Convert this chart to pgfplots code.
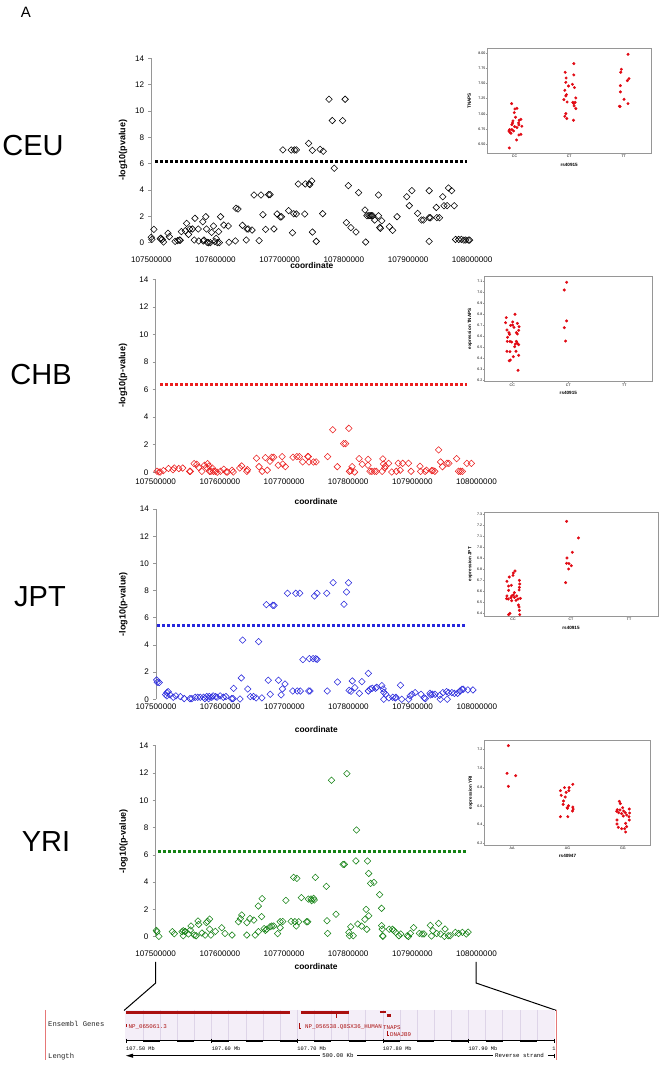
\documentclass[border=0pt]{standalone}
\usepackage{fontspec}
\setmainfont{Liberation Sans}
\newfontfamily\mono{Liberation Mono}
\usepackage{pgfplots}
\pgfplotsset{compat=1.18}

\definecolor{chbred}{RGB}{235,30,30}
\definecolor{jptblue}{RGB}{40,40,220}
\definecolor{yrigreen}{RGB}{20,130,20}
\definecolor{insetred}{RGB}{225,10,20}
\definecolor{genered}{RGB}{170,15,15}
\definecolor{band}{RGB}{244,238,248}
\definecolor{bandgrid}{RGB}{222,212,232}
\definecolor{axgray}{RGB}{150,150,150}
\definecolor{pagered}{RGB}{230,120,120}

\pgfplotsset{
  mainax/.style={
    scale only axis, clip=false,
    xmin=107500, xmax=108000, ymin=0, ymax=14,
    scaled x ticks=false, scaled y ticks=false,
    axis lines*=left, axis line style={-, draw=axgray, line width=0.6pt},
    x axis line style={draw=none},
    xtick={107500,107600,107700,107800,107900,108000},
    xticklabels={107500000,107600000,107700000,107800000,107900000,108000000},
    ytick={0,2,4,6,8,10,12,14},
    xtick style={draw=none},
    ytick style={draw=axgray, line width=0.6pt},
    tick align=outside, major tick length=3pt,
    /pgf/number format/assume math mode=true,
    tick label style={font=\fontsize{8.1}{9}\selectfont, inner sep=0pt},
    xticklabel style={anchor=center},
    yticklabel style={anchor=east, xshift=-4pt},
    every axis x label/.style={at={(axis description cs:0.5,0)}, anchor=center, font=\bfseries\fontsize{8.4}{9}\selectfont},
    every axis y label/.style={at={(axis description cs:-0.1,0.5)}, rotate=90, anchor=center, font=\bfseries\fontsize{9}{10}\selectfont},
    xlabel={coordinate},
  },
  dia/.style={only marks, mark=square, mark size=2.3pt, mark options={rotate=45, line width=0.55pt}},
  thr/.style={line width=3pt, dash pattern=on 3pt off 2pt},
  inax/.style={
    scale only axis, clip=false,
    scaled x ticks=false, scaled y ticks=false,
    xmin=-0.5, xmax=2.5, xtick={0,1,2},
    axis line style={draw=axgray, line width=0.5pt},
    tick style={draw=axgray, line width=0.4pt},
    tick align=outside, major tick length=1.2pt,
    tick pos=left,
    /pgf/number format/assume math mode=true,
    tick label style={font=\fontsize{3.6}{4}\selectfont, inner sep=0.6pt},
    every axis x label/.style={at={(axis description cs:0.5,0)}, anchor=center, yshift=-11.3pt, font=\bfseries\fontsize{4.6}{5}\selectfont},
    every axis y label/.style={at={(axis description cs:-0.085,0.5)}, rotate=90, anchor=center, font=\bfseries\fontsize{4.6}{5}\selectfont},
  },
  rdot/.style={only marks, mark=*, mark size=1.3pt, color=insetred, mark options={draw=insetred, fill=insetred}},
}

\begin{document}
\begin{tikzpicture}
\useasboundingbox (0,0) rectangle (661pt,1068pt);

% panel letters and population names
\node[font=\fontsize{15}{16}\selectfont] at (26pt,1055.3pt) {A};
\node[font=\fontsize{29}{30}\selectfont] at (33pt,922pt) {CEU};
\node[font=\fontsize{29}{30}\selectfont] at (41pt,693pt) {CHB};
\node[font=\fontsize{29}{30}\selectfont] at (40pt,471pt) {JPT};
\node[font=\fontsize{29}{30}\selectfont] at (46pt,226pt) {YRI};

%================ CEU =================
\begin{axis}[mainax, at={(151.3pt,825.3pt)}, anchor=south west, width=320.9pt, height=184.4pt,
  xticklabel style={yshift=-14.3pt}, xlabel style={yshift=-23.3pt},
  every axis y label/.append style={at={(axis description cs:-0.088,0.5)}},
  ylabel={-log10(pvalue)}]
\addplot[dia, black] coordinates {
(107500,0.41) (107501,0.25) (107504,1.01) (107514,0.30) (107515,0.35) (107517,0.25) (107519,0.05) (107526,0.71) (107528,0.46) (107537,0.10) (107541,0.15) (107544,0.20) (107545,0.18) (107547,0.84) (107553,0.91) (107555,1.47) (107558,0.63) (107560,1.04) (107564,1.04) (107567,0.20) (107568,1.85) (107573,1.04) (107574,0.13) (107580,1.59) (107581,0.13) (107582,0.20) (107585,1.97) (107586,1.04) (107587,0.03) (107589,0.0) (107592,0.0) (107594,0.78) (107597,1.27) (107599,0.08) (107601,0.33) (107603,0.0) (107605,0.84) (107606,0.0) (107608,1.97) (107613,1.34) (107620,1.27) (107621,0.03) (107631,0.13) (107632,2.61) (107635,2.56) (107642,1.32) (107648,0.20) (107649,1.04) (107651,1.04) (107657,0.96) (107660,3.62) (107668,0.15) (107671,3.62) (107674,2.13) (107678,1.01) (107683,3.65) (107685,3.65) (107691,1.04) (107696,2.18) (107701,1.95) (107703,1.97) (107705,7.04) (107714,2.43) (107718,7.04) (107720,0.76) (107722,2.20) (107723,7.04) (107726,7.04) (107726,2.18) (107729,4.46) (107739,2.18) (107740,4.46) (107745,7.54) (107746,4.46) (107747,4.41) (107750,4.68) (107751,0.81) (107751,7.01) (107757,0.10) (107763,7.09) (107767,2.20) (107768,6.94) (107777,10.89) (107782,9.27) (107785,5.65) (107798,9.27) (107802,10.89) (107804,1.52) (107807,4.33) (107811,1.14) (107819,0.81) (107823,3.80) (107833,2.48) (107834,0.05) (107836,2.05) (107839,2.05) (107841,2.05) (107843,2.05) (107845,2.05) (107848,1.72) (107854,3.62) (107854,2.05) (107856,1.16) (107857,1.09) (107859,1.67) (107871,1.22) (107876,0.94) (107883,1.97) (107898,3.49) (107902,2.81) (107906,3.95) (107915,2.23) (107921,1.72) (107924,1.72) (107933,1.90) (107933,3.95) (107933,0.10) (107935,1.90) (107944,2.68) (107945,1.90) (107949,1.90) (107954,3.49) (107956,2.81) (107961,2.81) (107963,4.15) (107968,3.95) (107972,2.81) (107974,0.25) (107979,0.25) (107983,0.25) (107987,0.20) (107990,0.20) (107994,0.20) (107996,0.20)
};
\addplot[thr, black] coordinates {(107506,6.15) (107992,6.15)};
\end{axis}

\begin{axis}[inax, at={(487.3pt,914.7pt)}, anchor=south west, width=163.7pt, height=105pt,
  ymin=6.352, ymax=8.077, ytick={6.5,6.75,7,7.25,7.5,7.75,8},
  yticklabel style={/pgf/number format/.cd, fixed, fixed zerofill, precision=2},
  xticklabels={CC,CT,TT}, xlabel={rs40915}, ylabel={TNAPS},
  every axis y label/.append style={at={(axis description cs:-0.11,0.5)}}]
\addplot[rdot] coordinates {
(-0.055,7.168) (0.043,7.091) (0.006,7.080) (-0.006,7.020) (0.018,6.944) (0.116,6.911) (0.085,6.894) (-0.030,6.883) (-0.037,6.851) (0.073,6.851) (-0.049,6.823) (0.134,6.796) (0.000,6.790) (0.079,6.818) (0.043,6.774) (-0.091,6.741) (-0.049,6.741) (-0.103,6.719) (-0.018,6.719) (-0.085,6.697) (-0.067,6.681) (0.116,6.664) (0.079,6.653) (0.037,6.571) (-0.097,6.440)
(1.085,7.825) (0.927,7.683) (1.085,7.639) (0.945,7.589) (0.939,7.518) (1.061,7.485) (0.988,7.458) (1.097,7.431) (0.921,7.387) (0.951,7.316) (0.939,7.294) (1.122,7.261) (0.903,7.234) (0.963,7.195) (1.067,7.190) (1.110,7.190) (1.085,7.168) (1.091,7.130) (1.122,7.086) (0.939,7.004) (0.921,6.960) (0.957,6.922) (1.079,6.894)
(2.079,7.978) (1.957,7.732) (1.945,7.683) (2.097,7.579) (2.067,7.546) (1.939,7.464) (1.939,7.360) (2.006,7.239) (2.079,7.168) (1.921,7.124) (1.933,7.119)
};
\end{axis}

%================ CHB =================
\begin{axis}[mainax, at={(155.7pt,595.7pt)}, anchor=south west, width=320.8pt, height=193pt,
  xticklabel style={yshift=-6pt}, xlabel style={yshift=-29.4pt},
  every axis y label/.append style={at={(axis description cs:-0.102,0.5)}},
  ylabel={-log10(p-value)}]
\addplot[dia, chbred] coordinates {
(107502,0.07) (107505,0.02) (107507,0.02) (107512,0.12) (107520,0.27) (107527,0.19) (107529,0.31) (107536,0.27) (107542,0.31) (107553,0.07) (107554,0.07) (107560,0.63) (107564,0.58) (107567,0.36) (107572,0.07) (107576,0.51) (107579,0.36) (107581,0.63) (107583,0.46) (107584,0.07) (107586,0.07) (107588,0.31) (107590,0.07) (107593,0.07) (107596,0.0) (107601,0.07) (107606,0.22) (107610,0.02) (107612,0.02) (107619,0.15) (107621,0.02) (107631,0.31) (107634,0.46) (107642,0.07) (107643,0.19) (107657,1.02) (107661,0.41) (107666,0.07) (107671,1.06) (107674,0.15) (107678,0.80) (107681,1.09) (107684,1.09) (107691,0.51) (107697,1.14) (107698,0.60) (107702,0.41) (107714,1.09) (107720,1.14) (107724,1.14) (107729,0.75) (107737,1.14) (107738,1.14) (107739,0.75) (107746,0.75) (107750,0.75) (107768,1.14) (107776,3.09) (107783,0.41) (107793,2.08) (107796,2.08) (107801,3.19) (107802,0.07) (107804,0.12) (107806,0.41) (107810,0.02) (107817,0.99) (107822,0.58) (107831,0.94) (107831,0.51) (107834,0.07) (107837,0.07) (107841,0.07) (107844,0.07) (107853,0.07) (107854,0.97) (107855,0.60) (107857,0.31) (107858,0.44) (107863,0.65) (107868,0.02) (107875,0.07) (107878,0.65) (107881,0.15) (107885,0.65) (107894,0.65) (107898,0.07) (107912,0.44) (107913,0.07) (107920,0.07) (107922,0.15) (107930,0.12) (107932,0.12) (107935,0.07) (107941,1.62) (107944,0.75) (107947,0.41) (107954,0.65) (107957,0.65) (107969,0.99) (107972,0.07) (107975,0.07) (107978,0.07) (107985,0.65) (107992,0.65)
};
\addplot[thr, chbred] coordinates {(107507,6.38) (107985,6.38)};
\end{axis}

\begin{axis}[inax, at={(484.3pt,686.3pt)}, anchor=south west, width=168pt, height=105.7pt,
  ymin=6.191, ymax=7.148, ytick={6.2,6.3,6.4,6.5,6.6,6.7,6.8,6.9,7.0,7.1},
  yticklabel style={/pgf/number format/.cd, fixed, fixed zerofill, precision=1},
  xticklabels={CC,CT,TT}, xlabel={rs40915}, ylabel={expression TNAPS}]
\addplot[rdot] coordinates {
(-0.108,6.771) (0.048,6.801) (-0.120,6.725) (0.006,6.732) (0.090,6.719) (0.120,6.689) (-0.030,6.701) (0.006,6.704) (0.030,6.683) (-0.096,6.659) (-0.060,6.635) (-0.048,6.620) (0.072,6.635) (0.090,6.623) (0.114,6.656) (-0.084,6.593) (-0.090,6.556) (-0.042,6.556) (-0.012,6.550) (0.072,6.556) (0.090,6.538) (0.054,6.532) (0.114,6.526) (0.042,6.508) (-0.096,6.466) (-0.042,6.463) (0.066,6.466) (0.018,6.417) (0.114,6.430) (-0.036,6.387) (-0.054,6.381) (0.102,6.294)
(0.970,7.091) (0.928,7.021) (0.970,6.741) (0.928,6.680) (0.952,6.559)
};
\end{axis}

%================ JPT =================
\begin{axis}[mainax, at={(156pt,368.7pt)}, anchor=south west, width=320.8pt, height=190.3pt,
  xticklabel style={yshift=-4pt}, xlabel style={yshift=-30pt},
  every axis y label/.append style={at={(axis description cs:-0.102,0.5)}},
  ylabel={-log10(p-value)}]
\addplot[dia, jptblue] coordinates {
(107501,1.42) (107502,1.25) (107505,1.23) (107515,0.34) (107517,0.49) (107519,0.56) (107517,0.25) (107522,0.32) (107527,0.15) (107531,0.25) (107538,0.20) (107544,0.05) (107553,0.05) (107556,0.05) (107561,0.15) (107565,0.15) (107569,0.15) (107574,0.15) (107576,0.05) (107579,0.20) (107582,0.05) (107583,0.20) (107587,0.15) (107589,0.25) (107593,0.20) (107595,0.15) (107600,0.25) (107605,0.15) (107609,0.20) (107618,0.05) (107620,0.05) (107621,0.81) (107631,0.02) (107633,1.57) (107635,4.36) (107643,0.76) (107647,0.20) (107652,0.20) (107656,0.10) (107660,4.24) (107665,0.10) (107672,6.96) (107675,1.40) (107678,0.37) (107682,6.91) (107684,6.91) (107691,1.40) (107695,0.32) (107697,0.76) (107701,1.13) (107705,7.80) (107713,0.61) (107718,7.80) (107720,0.61) (107724,7.80) (107725,0.61) (107729,2.92) (107738,0.61) (107739,2.99) (107740,0.61) (107745,2.99) (107747,7.60) (107749,2.99) (107751,2.94) (107751,7.80) (107767,0.61) (107766,7.80) (107776,8.58) (107783,1.27) (107793,6.99) (107797,7.89) (107800,8.58) (107801,0.66) (107804,0.59) (107806,1.35) (107810,0.86) (107817,0.44) (107821,1.30) (107831,1.91) (107831,0.61) (107834,0.76) (107837,0.81) (107842,0.81) (107844,0.88) (107852,1.01) (107854,0.76) (107855,0.51) (107855,0.0) (107858,0.37) (107863,0.10) (107869,0.15) (107873,0.10) (107874,0.15) (107881,1.03) (107883,0.0) (107894,0.0) (107896,0.25) (107899,0.37) (107904,0.49) (107913,0.37) (107918,0.10) (107920,0.05) (107927,0.44) (107928,0.32) (107931,0.37) (107935,0.37) (107942,0.29) (107943,0.0) (107947,0.49) (107953,0.56) (107954,0.0) (107956,0.49) (107961,0.49) (107965,0.44) (107970,0.44) (107974,0.61) (107977,0.74) (107979,0.74) (107986,0.69) (107994,0.69)
};
\addplot[thr, jptblue] coordinates {(107502,5.44) (107985,5.44)};
\end{axis}

\begin{axis}[inax, at={(484pt,451.7pt)}, anchor=south west, width=174pt, height=104.3pt,
  ymin=6.373, ymax=7.321, ytick={6.4,6.5,6.6,6.7,6.8,6.9,7.0,7.1,7.2,7.3},
  yticklabel style={/pgf/number format/.cd, fixed, fixed zerofill, precision=1},
  xticklabels={CC,CT,TT}, xlabel={rs40915}, ylabel={expression JPT},
  every axis y label/.append style={at={(axis description cs:-0.08,0.5)}}]
\addplot[rdot] coordinates {
(0.035,6.785) (0.006,6.767) (0.000,6.745) (-0.064,6.730) (0.110,6.700) (-0.105,6.691) (-0.076,6.648) (-0.029,6.655) (0.116,6.667) (0.110,6.636) (-0.076,6.609) (0.105,6.612) (0.023,6.588) (0.006,6.567) (-0.023,6.558) (-0.105,6.558) (0.064,6.558) (-0.035,6.542) (0.023,6.545) (-0.110,6.533) (-0.081,6.530) (0.087,6.530) (0.128,6.536) (-0.023,6.515) (0.052,6.518) (0.093,6.476) (0.105,6.458) (0.110,6.427) (-0.052,6.400) (-0.076,6.388) (0.116,6.388)
(0.924,7.236) (1.128,7.085) (1.023,6.955) (0.930,6.903) (0.924,6.855) (0.965,6.852) (1.006,6.833) (0.959,6.803) (0.907,6.679)
};
\end{axis}

%================ YRI =================
\begin{axis}[mainax, at={(155.7pt,131.3pt)}, anchor=south west, width=320.8pt, height=191pt,
  xticklabel style={yshift=-14.3pt}, xlabel style={yshift=-30pt},
  ylabel={-log10(p-value)}]
\addplot[dia, yrigreen] coordinates {
(107501,0.46) (107502,0.37) (107505,0.02) (107526,0.37) (107529,0.22) (107541,0.37) (107543,0.44) (107546,0.39) (107543,0.07) (107546,0.37) (107551,0.20) (107555,0.78) (107554,0.49) (107560,0.12) (107563,0.07) (107566,1.15) (107567,0.90) (107572,0.27) (107577,0.12) (107579,1.03) (107581,1.12) (107584,1.29) (107584,0.56) (107586,0.12) (107593,0.39) (107603,0.66) (107608,0.24) (107619,0.12) (107629,1.10) (107632,1.32) (107634,1.59) (107642,0.12) (107642,1.03) (107647,1.34) (107653,1.22) (107655,0.12) (107660,2.25) (107660,0.37) (107665,1.47) (107666,2.79) (107669,0.59) (107671,0.46) (107673,0.54) (107678,0.73) (107681,0.78) (107684,0.78) (107690,0.22) (107694,0.66) (107694,1.10) (107698,1.12) (107703,2.66) (107711,1.12) (107715,4.35) (107717,1.10) (107719,0.78) (107720,4.28) (107723,1.10) (107727,2.86) (107735,1.10) (107737,1.10) (107738,2.76) (107742,2.76) (107743,2.64) (107746,2.81) (107747,2.69) (107749,4.35) (107766,3.69) (107767,1.17) (107768,0.24) (107774,11.46) (107781,1.64) (107792,5.30) (107794,5.30) (107798,11.95) (107801,0.32) (107802,0.07) (107804,0.73) (107808,0.07) (107812,5.55) (107813,7.82) (107815,0.93) (107821,0.78) (107826,1.27) (107828,2.00) (107830,5.55) (107829,0.54) (107832,4.64) (107832,1.54) (107835,3.91) (107840,3.98) (107849,3.08) (107852,2.08) (107852,0.81) (107853,0.56) (107854,0.07) (107854,0.02) (107864,0.54) (107869,0.54) (107871,0.46) (107874,0.32) (107879,0.07) (107882,0.20) (107892,0.07) (107894,0.02) (107897,0.24) (107902,0.66) (107911,0.24) (107915,0.20) (107918,0.20) (107928,0.83) (107930,0.05) (107932,0.44) (107938,0.24) (107941,0.98) (107944,0.20) (107950,0.02) (107951,0.56) (107956,0.07) (107959,0.07) (107967,0.32) (107972,0.24) (107978,0.32) (107984,0.20) (107987,0.34)
};
\addplot[thr, yrigreen] coordinates {(107504,6.28) (107985,6.28)};
\end{axis}

\begin{axis}[inax, at={(484.3pt,223pt)}, anchor=south west, width=166.4pt, height=104.7pt,
  ymin=6.186, ymax=7.292, ytick={6.2,6.4,6.6,6.8,7.0,7.2},
  yticklabel style={/pgf/number format/.cd, fixed, fixed zerofill, precision=1},
  xticklabels={AA,AG,GG}, xlabel={rs40947}, ylabel={expression YRI},
  every axis y label/.append style={at={(axis description cs:-0.082,0.5)}}]
\addplot[rdot] coordinates {
(-0.066,7.235) (-0.090,6.943) (0.066,6.918) (-0.066,6.806)
(1.096,6.827) (0.946,6.792) (1.030,6.792) (0.873,6.760) (1.024,6.760) (0.976,6.742) (0.886,6.711) (0.958,6.693) (0.928,6.651) (0.922,6.615) (1.018,6.601) (1.096,6.587) (0.994,6.580) (1.000,6.573) (1.102,6.566) (1.090,6.545) (0.873,6.485) (1.006,6.485)
(1.934,6.647) (1.952,6.623) (1.994,6.580) (2.114,6.566) (1.898,6.559) (1.946,6.556) (1.886,6.542) (2.012,6.545) (1.922,6.527) (2.042,6.527) (1.976,6.517) (2.120,6.524) (2.066,6.503) (2.006,6.492) (2.108,6.485) (1.892,6.450) (2.114,6.450) (1.892,6.408) (2.048,6.415) (1.916,6.373) (2.066,6.380) (1.976,6.358) (2.030,6.358) (2.048,6.323)
};
\end{axis}

%================ connecting lines =================
\begin{scope}[shift={(0pt,1068pt)}, yscale=-1]
\draw[black, line width=1pt] (155.7pt,962pt) -- (155.7pt,983pt) -- (124pt,1010.5pt);
\draw[black, line width=1pt] (476pt,962pt) -- (476pt,983pt) -- (556.5pt,1010.5pt);
\end{scope}

%================ gene track =================
\begin{axis}[at={(126pt,6pt)}, anchor=south west, scale only axis, width=428pt, height=57pt,
  xmin=107.5, xmax=108.0, ymin=1005, ymax=1062, y dir=reverse, axis lines=none, clip=false]
\fill[band] (axis cs:107.4988,1010) rectangle (axis cs:108.0012,1040);
\pgfplotsinvokeforeach{107.52,107.54,107.56,107.58,107.60,107.62,107.64,107.66,107.68,107.70,107.72,107.74,107.76,107.78,107.80,107.82,107.84,107.86,107.88,107.90,107.92,107.94,107.96,107.98}{
  \draw[bandgrid, line width=0.5pt] (axis cs:#1,1010) -- (axis cs:#1,1040);
}
\draw[pagered, line width=0.8pt] (axis cs:107.4062,1010) -- (axis cs:107.4062,1060);
\draw[pagered, line width=0.8pt] (axis cs:108.0032,1010) -- (axis cs:108.0032,1060);
% genes
\addplot[genered, line width=3pt] coordinates {(107.5,1012.2) (107.6916,1012.2)};
\addplot[genered, line width=3pt] coordinates {(107.7044,1012.2) (107.7609,1012.2)};
\addplot[genered, line width=2.6pt] coordinates {(107.7967,1012.0) (107.8037,1012.0)};
\addplot[genered, line width=2.7pt] coordinates {(107.8046,1015.7) (107.8092,1015.7)};
\addplot[genered, line width=0.7pt] coordinates {(107.7453,1013.7) (107.7453,1018.3)};
\draw[genered, line width=0.4pt] (axis cs:107.5006,1024.5) -- (axis cs:107.5006,1027.5);
\draw[genered, line width=0.4pt] (axis cs:107.7023,1023.5) -- (axis cs:107.7023,1027.8) -- (axis cs:107.7045,1027.8);
\draw[genered, line width=0.4pt] (axis cs:107.8053,1031) -- (axis cs:107.8053,1034.8) -- (axis cs:107.8075,1034.8);
\node[genered, anchor=west, inner sep=0pt, font=\mono\fontsize{5.8}{6}\selectfont] at (axis cs:107.5028,1027.3) {NP\_065061.3};
\node[genered, anchor=west, inner sep=0pt, font=\mono\fontsize{5.8}{6}\selectfont] at (axis cs:107.7091,1027.3) {NP\_056538.Q8SX36\_HUMAN};
\node[genered, anchor=west, inner sep=0pt, font=\mono\fontsize{5.8}{6}\selectfont] at (axis cs:107.8002,1027.3) {TNAPS};
\node[genered, anchor=west, inner sep=0pt, font=\mono\fontsize{5.8}{6}\selectfont] at (axis cs:107.8084,1034.3) {DNAJB9};
% scale bar
\draw[black, line width=0.6pt] (axis cs:107.5,1040.7) -- (axis cs:108.0,1040.7);
\draw[black, line width=2.4pt]
  (axis cs:107.52,1041) -- (axis cs:107.54,1041) (axis cs:107.56,1041) -- (axis cs:107.58,1041)
  (axis cs:107.60,1041) -- (axis cs:107.62,1041) (axis cs:107.64,1041) -- (axis cs:107.66,1041)
  (axis cs:107.68,1041) -- (axis cs:107.70,1041) (axis cs:107.72,1041) -- (axis cs:107.74,1041)
  (axis cs:107.76,1041) -- (axis cs:107.78,1041) (axis cs:107.80,1041) -- (axis cs:107.82,1041)
  (axis cs:107.84,1041) -- (axis cs:107.86,1041) (axis cs:107.88,1041) -- (axis cs:107.90,1041)
  (axis cs:107.92,1041) -- (axis cs:107.94,1041) (axis cs:107.96,1041) -- (axis cs:107.98,1041);
\pgfplotsinvokeforeach{107.5,107.6,107.7,107.8,107.9,108.0}{
  \draw[black, line width=0.5pt] (axis cs:#1,1038.6) -- (axis cs:#1,1043.2);
}
\node[anchor=west, inner sep=0pt, font=\mono\fontsize{5.3}{6}\selectfont] at (axis cs:107.5,1049) {107.50 Mb};
\node[anchor=west, inner sep=0pt, font=\mono\fontsize{5.3}{6}\selectfont] at (axis cs:107.6,1049) {107.60 Mb};
\node[anchor=west, inner sep=0pt, font=\mono\fontsize{5.3}{6}\selectfont] at (axis cs:107.7,1049) {107.70 Mb};
\node[anchor=west, inner sep=0pt, font=\mono\fontsize{5.3}{6}\selectfont] at (axis cs:107.8,1049) {107.80 Mb};
\node[anchor=west, inner sep=0pt, font=\mono\fontsize{5.3}{6}\selectfont] at (axis cs:107.9,1049) {107.90 Mb};
\node[anchor=west, inner sep=0pt, font=\mono\fontsize{5.3}{6}\selectfont] at (axis cs:107.998,1049) {1};
% length row
\fill[black] (axis cs:107.5,1055.7) -- (axis cs:107.5082,1053.6) -- (axis cs:107.5082,1057.8) -- cycle;
\draw[black, line width=0.5pt] (axis cs:107.5082,1055.7) -- (axis cs:107.7266,1055.7);
\node[inner sep=0pt, font=\mono\fontsize{5.8}{6}\selectfont] at (axis cs:107.7477,1055.7) {500.00 Kb};
\draw[black, line width=0.5pt] (axis cs:107.7699,1055.7) -- (axis cs:107.9287,1055.7);
\node[anchor=west, inner sep=0pt, font=\mono\fontsize{5.8}{6}\selectfont] at (axis cs:107.9311,1055.7) {Reverse strand};
\draw[black, line width=0.5pt] (axis cs:107.9930,1055.7) -- (axis cs:108.0,1055.7);
\draw[black, line width=0.5pt] (axis cs:108.0,1053.6) -- (axis cs:108.0,1057.8);
% row labels
\node[anchor=west, inner sep=0pt, font=\mono\fontsize{7.2}{8}\selectfont, black!85] at (axis cs:107.4089,1024.3) {Ensembl Genes};
\node[anchor=west, inner sep=0pt, font=\mono\fontsize{7.2}{8}\selectfont, black!85] at (axis cs:107.4089,1056.7) {Length};
\end{axis}

\end{tikzpicture}
\end{document}
